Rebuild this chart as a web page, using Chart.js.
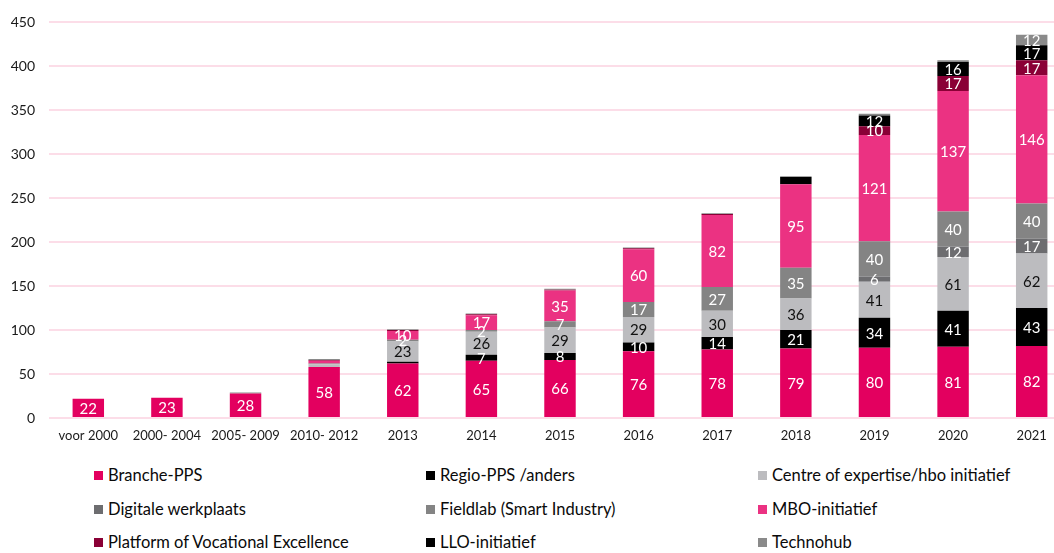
<!DOCTYPE html>
<html>
<head>
<meta charset="utf-8">
<script src="https://cdn.jsdelivr.net/npm/chart.js@4/dist/chart.umd.min.js"></script>
<style>
    body{ margin:0; background:#fff; overflow:hidden; font-family:Lato, sans-serif; }
    #wrap{ position:relative; width:1054px; height:553px; overflow:hidden; }
    #chart{ position:absolute; left:0; top:0; }
    #legend{ position:absolute; left:0; top:466px; width:1054px; }
    .item{ position:absolute; font-size:16.5px; color:#0a0a0a; white-space:nowrap; line-height:18px; }
    .item span{ display:inline-block; width:9px; height:9px; margin-right:5px; vertical-align:1px; }
</style>
</head>
<body>
<div id="wrap">
    <canvas id="chart" width="1071" height="450"></canvas>
    <div id="legend"></div>
</div>
<script>
// categories and series values
var categories = [`voor 2000`, `2000- 2004`, `2005- 2009`, `2010- 2012`, `2013`, `2014`, `2015`, `2016`, `2017`, `2018`, `2019`, `2020`, `2021`];
var branche    = [22, 23, 28, 58, 62, 65, 66, 76, 78, 79, 80, 81, 82];
var regio      = [0, 0, 0, 0, 2, 7, 8, 10, 14, 21, 34, 41, 43];
var centre     = [0, 0, 0, 3, 23, 26, 29, 29, 30, 36, 41, 61, 62];
var digitale   = [0, 0, 0, 0, 0, 0, 0, 0, 0, 0, 6, 12, 17];
var fieldlab   = [0, 0, 0, 1, 2, 2, 7, 17, 27, 35, 40, 40, 40];
var mbo        = [0, 0, 0, 3, 10, 17, 35, 60, 82, 95, 121, 137, 146];
var pove       = [0, 0, 0, 1, 1, 1, 1, 1, 1, 0, 10, 17, 17];
var llo        = [0, 0, 0, 0, 0, 0, 0, 0, 0, 8, 12, 16, 17];
var technohub  = [0, 0, 1, 1, 1, 1, 1, 1, 1, 1, 2, 2, 12];
var yTicks     = [0, 50, 100, 150, 200, 250, 300, 350, 400, 450];

// small segments that still carry a label, and one that has none
var smallLabeled = [`Fieldlab (Smart Industry)|2013`, `Fieldlab (Smart Industry)|2014`];
var unlabeled = [`LLO-initiatief|2018`];

var series = [
    { label: `Branche-PPS`, data: branche, color: `#E3005F`, text: `#fff` },
    { label: `Regio-PPS /anders`, data: regio, color: `#000000`, text: `#fff` },
    { label: `Centre of expertise/hbo initiatief`, data: centre, color: `#BCBCBF`, text: `#111` },
    { label: `Digitale werkplaats`, data: digitale, color: `#6D6D70`, text: `#fff` },
    { label: `Fieldlab (Smart Industry)`, data: fieldlab, color: `#848484`, text: `#fff` },
    { label: `MBO-initiatief`, data: mbo, color: `#EB3282`, text: `#fff` },
    { label: `Platform of Vocational Excellence`, data: pove, color: `#8A0036`, text: `#fff` },
    { label: `LLO-initiatief`, data: llo, color: `#000000`, text: `#fff` },
    { label: `Technohub`, data: technohub, color: `#8A8A8A`, text: `#fff` }
];

var segmentLabels = {
    id: `segmentLabels`,
    afterDatasetsDraw: function(chart){
        var ctx = chart.ctx;
        ctx.save();
        ctx.font = `15px Lato`;
        ctx.textAlign = `center`;
        ctx.textBaseline = `middle`;
        chart.data.datasets.forEach(function(ds, i){
            var meta = chart.getDatasetMeta(i);
            meta.data.forEach(function(bar, j){
                var v = ds.data[j];
                var key = `${ds.label}|${categories[j]}`;
                if(!v) return;
                if(v < 5 && smallLabeled.indexOf(key) < 0) return;
                if(unlabeled.indexOf(key) >= 0) return;
                ctx.fillStyle = ds.textColor;
                ctx.fillText(String(v), bar.x, (bar.y + bar.base) / 2 + 1);
            });
        });
        ctx.restore();
    }
};

Chart.defaults.font.family = `Lato`;
Chart.defaults.color = `#1a1a1a`;

new Chart(document.getElementById(`chart`), {
    type: `bar`,
    data: {
        labels: categories,
        datasets: series.map(s => ({
            label: s.label,
            data: s.data,
            backgroundColor: s.color,
            textColor: s.text,
            borderWidth: 0,
            barPercentage: 0.4,
            categoryPercentage: 1
        }))
    },
    options: {
        responsive: false,
        animation: false,
        layout: { padding: { top: 16, left: 0, right: 0, bottom: 0 } },
        plugins: { legend: { display: false }, tooltip: { enabled: false } },
        scales: {
            x: {
                stacked: true,
                grid: { display: false, drawTicks: false },
                border: { display: false },
                ticks: { padding: 10, font: { size: 13 }, maxRotation: 0, autoSkip: false },
                afterFit: s => { s.height = 32; }
            },
            y: {
                stacked: true,
                min: 0,
                max: 450,
                afterBuildTicks: s => { s.ticks = yTicks.map(v => ({ value: v })); },
                grid: { color: `#FCDDE8`, lineWidth: 2, drawTicks: false },
                border: { display: false },
                ticks: { padding: 14, font: { size: 14 } },
                afterFit: s => { s.width = 49; }
            }
        }
    },
    plugins: [segmentLabels]
});

// legend in three columns, same order as the series
var cols = [94, 426, 758];
var legendHtml = series.map((s, i) =>
    `<div class="item" style="left:${cols[i % 3]}px; top:${Math.floor(i / 3) * 33.5}px"><span style="background:${s.color}"></span>${s.label}</div>`
).join(``);
document.getElementById(`legend`).innerHTML = legendHtml;
</script>
</body>
</html>
